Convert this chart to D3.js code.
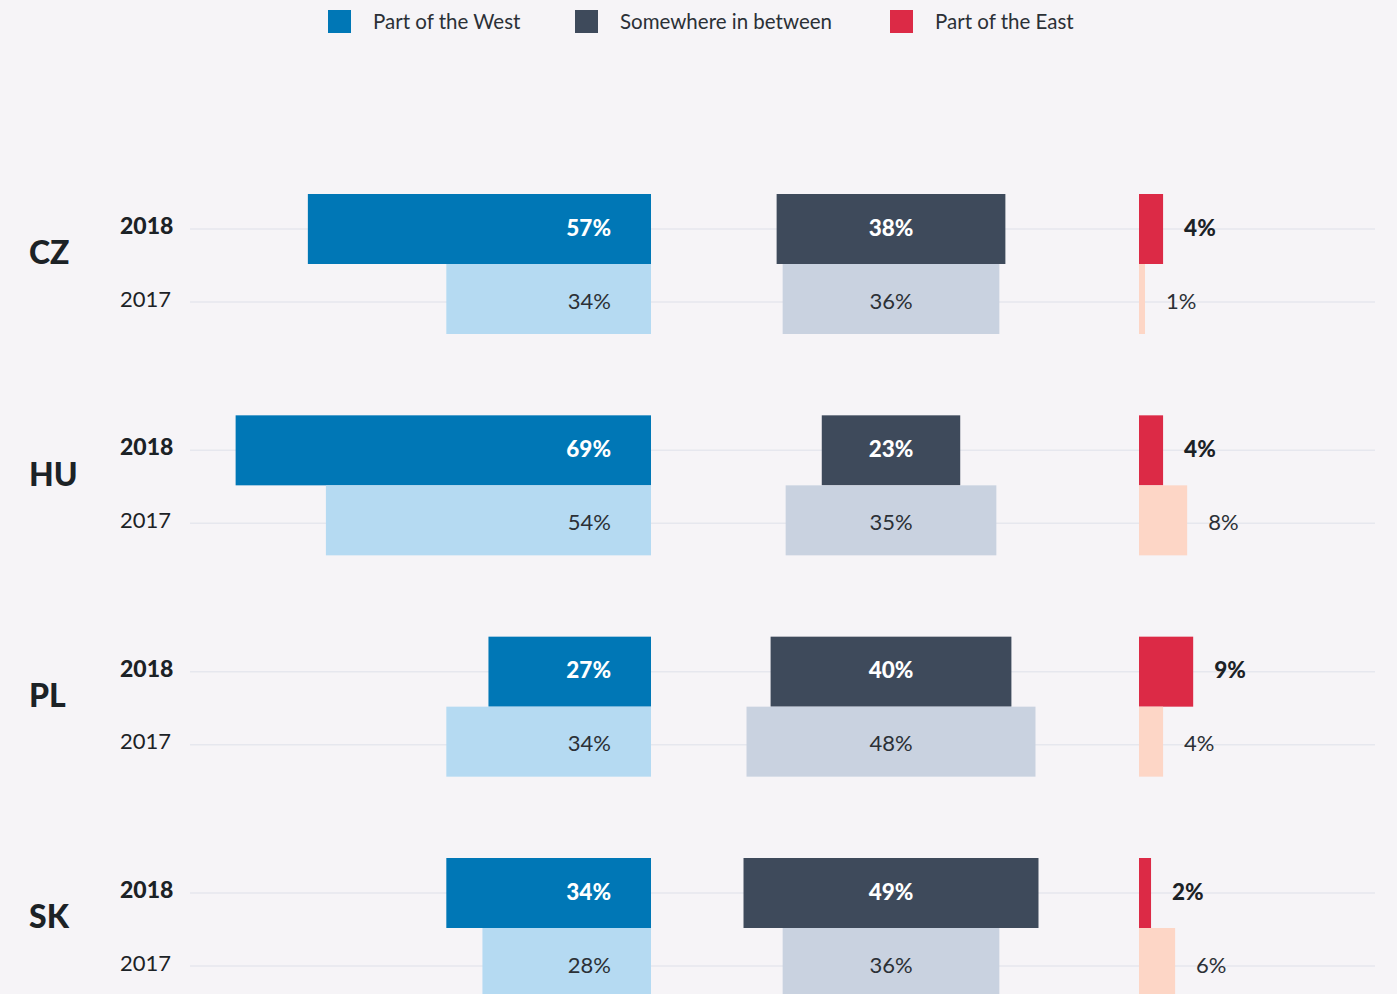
<!DOCTYPE html>
<html>
<head>
<meta charset="utf-8">
<script src="https://cdn.jsdelivr.net/npm/d3@7/dist/d3.min.js"></script>
<style>
  body { margin: 0; background: #f6f4f7; }
  text { font-family: Lato, "Open Sans", sans-serif; }
</style>
</head>
<body>
<script>
// data
var countries = ["CZ", "HU", "PL", "SK"];
var years = ["2018", "2017"];
var west2018 = [57, 69, 27, 34];
var west2017 = [34, 54, 34, 28];
var mid2018 = [38, 23, 40, 49];
var mid2017 = [36, 35, 48, 36];
var east2018 = [4, 4, 9, 2];
var east2017 = [1, 8, 4, 6];
var legendLabels = ["Part of the West", "Somewhere in between", "Part of the East"];

var W = 1397, H = 994;
var svg = d3.select("body").append("svg")
    .attr("width", W)
    .attr("height", H)
    .style("display", "block");

svg.append("rect").attr("width", W).attr("height", H).attr("fill", "#f6f4f7");

var colors = {
  west: ["#0077b6", "#b5daf2"],
  mid: ["#3e4a5b", "#c9d2e0"],
  east: ["#dc2a46", "#fdd6c6"]
};

// scales
var x = d3.scaleLinear().domain([0, 100]).range([0, 602]);
var yCountry = d3.scalePoint().domain(countries).range([194, 858]);
var yYear = d3.scaleBand().domain(years).range([0, 140]);

var westRight = 651, midCenter = 891, eastLeft = 1139;

// legend
var legendX = [328, 575, 890];
var lg = svg.append("g").selectAll("g")
  .data(legendLabels).enter().append("g")
  .attr("transform", function(d, i) { return "translate(" + legendX[i] + ",10)"; });
lg.append("rect").attr("width", 23).attr("height", 23)
  .attr("fill", function(d, i) { return [colors.west[0], colors.mid[0], colors.east[0]][i]; });
lg.append("text").attr("x", 45).attr("y", 14)
  .attr("dominant-baseline", "middle")
  .attr("font-size", "20.5px").attr("fill", "#2b3036")
  .text(function(d) { return d; });

countries.forEach(function(c, i) {
  var g = svg.append("g").attr("transform", "translate(0," + yCountry(c) + ")");
  var rows = [
    { yr: "2018", w: west2018[i], m: mid2018[i], e: east2018[i], k: 0, ty: 35 },
    { yr: "2017", w: west2017[i], m: mid2017[i], e: east2017[i], k: 1, ty: 108 }
  ];

  // gridlines
  g.selectAll("line.grid").data(rows).enter().append("line")
    .attr("x1", 190).attr("x2", 1375)
    .attr("y1", function(d) { return d.ty; }).attr("y2", function(d) { return d.ty; })
    .attr("stroke", "#e6e7ee").attr("stroke-width", 1.5);

  // country label
  g.append("text").attr("x", 29).attr("y", 62)
    .attr("dominant-baseline", "middle")
    .attr("font-size", "32px").attr("font-weight", 900).attr("fill", "#1c2226")
    .text(c);

  // year labels
  g.selectAll("text.yr").data(rows).enter().append("text")
    .attr("x", 120).attr("y", function(d) { return d.ty - 1; })
    .attr("dominant-baseline", "middle")
    .attr("font-size", function(d) { return d.k === 0 ? "23px" : "22px"; })
    .attr("font-weight", function(d) { return d.k === 0 ? 900 : 400; })
    .attr("fill", "#1c2226")
    .text(function(d) { return d.yr; });

  rows.forEach(function(r) {
    var top = yYear(r.yr), h = yYear.bandwidth();
    var bold = r.k === 0 ? 900 : 400;
    var fs = r.k === 0 ? "22.5px" : "22px";
    var tcol = r.k === 0 ? "#ffffff" : "#2b3036";
    var ty = r.ty + 1;

    // west
    g.append("rect").attr("x", westRight - x(r.w)).attr("y", top)
      .attr("width", x(r.w)).attr("height", h).attr("fill", colors.west[r.k]);
    g.append("text").attr("x", westRight - 40).attr("y", ty)
      .attr("text-anchor", "end").attr("dominant-baseline", "middle")
      .attr("font-size", fs).attr("font-weight", bold).attr("fill", tcol)
      .text(r.w + "%");

    // middle
    g.append("rect").attr("x", midCenter - x(r.m) / 2).attr("y", top)
      .attr("width", x(r.m)).attr("height", h).attr("fill", colors.mid[r.k]);
    g.append("text").attr("x", midCenter).attr("y", ty)
      .attr("text-anchor", "middle").attr("dominant-baseline", "middle")
      .attr("font-size", fs).attr("font-weight", bold).attr("fill", tcol)
      .text(r.m + "%");

    // east
    g.append("rect").attr("x", eastLeft).attr("y", top)
      .attr("width", x(r.e)).attr("height", h).attr("fill", colors.east[r.k]);
    g.append("text").attr("x", eastLeft + x(r.e) + 21).attr("y", ty)
      .attr("dominant-baseline", "middle")
      .attr("font-size", fs).attr("font-weight", bold).attr("fill", r.k === 0 ? "#1c2226" : "#2b3036")
      .text(r.e + "%");
  });
});
</script>
</body>
</html>
